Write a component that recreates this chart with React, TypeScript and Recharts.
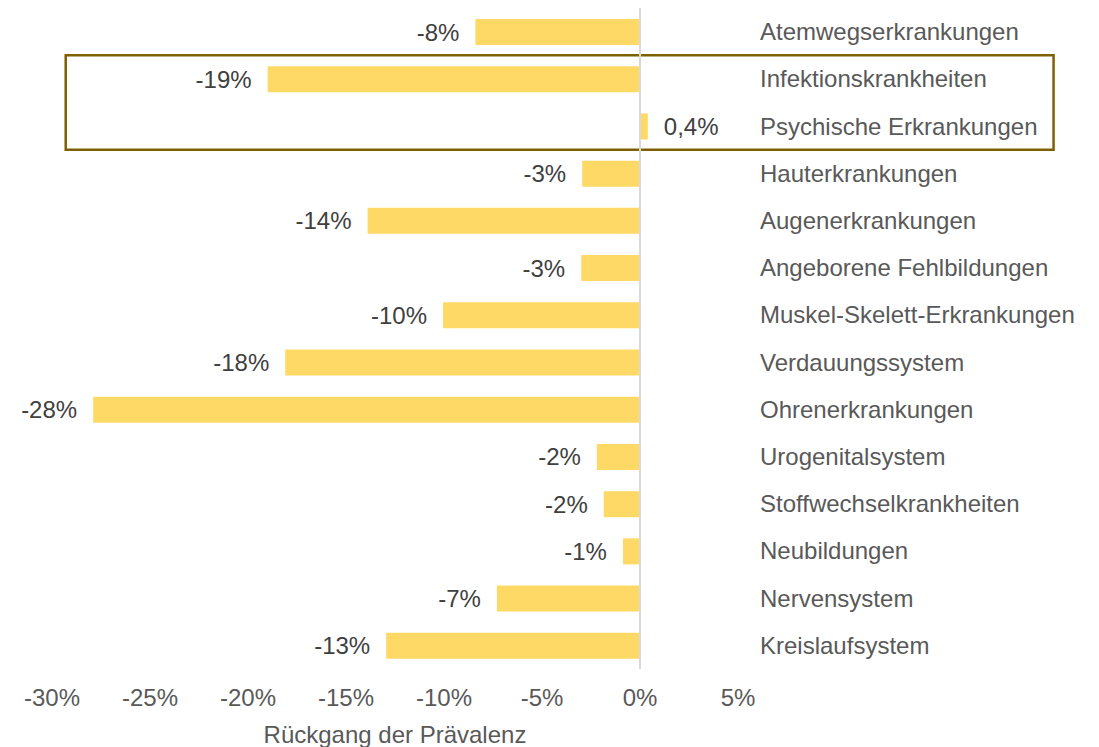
import { BarChart, Bar, XAxis, YAxis, ReferenceLine, ReferenceArea, LabelList } from "recharts";

const categories = [
  "Atemwegserkrankungen",
  "Infektionskrankheiten",
  "Psychische Erkrankungen",
  "Hauterkrankungen",
  "Augenerkrankungen",
  "Angeborene Fehlbildungen",
  "Muskel-Skelett-Erkrankungen",
  "Verdauungssystem",
  "Ohrenerkrankungen",
  "Urogenitalsystem",
  "Stoffwechselkrankheiten",
  "Neubildungen",
  "Nervensystem",
  "Kreislaufsystem",
];

const changes = [-8.4, -19.0, 0.4, -2.95, -13.9, -3.0, -10.05, -18.1, -27.9, -2.2, -1.85, -0.87, -7.3, -12.95];

const xTicks = [-30, -25, -20, -15, -10, -5, 0, 5];

const data = categories.map((name, i) => ({ name, value: changes[i] }));

const FONT = "'Liberation Sans', Arial, sans-serif";

const fmtValue = (v: number) =>
  v > 0 ? `${v.toFixed(1).replace(".", ",")}%` : `${Math.round(v)}%`;

function ValueLabel(props: any) {
  const { x, y, width, height, value } = props;
  const end = x + width;
  const cy = y + height / 2;
  const neg = value < 0;
  return (
    <text
      x={neg ? Math.min(x, end) - 16 : Math.max(x, end) + 16}
      y={cy}
      textAnchor={neg ? "end" : "start"}
      dominantBaseline="central"
      fill="#404040"
      fontSize={24}
      fontFamily={FONT}
    >
      {fmtValue(value)}
    </text>
  );
}

export default function App() {
  return (
    <div style={{ position: "absolute", left: 0, top: 0, background: "#fff", fontFamily: FONT }}>
      <BarChart
        width={1099}
        height={747}
        data={data}
        layout="vertical"
        margin={{ top: 8, right: 0, bottom: 0, left: 52 }}
      >
        <XAxis
          type="number"
          domain={[-30, 5]}
          ticks={xTicks}
          tickFormatter={(v) => `${v}%`}
          axisLine={false}
          tickLine={false}
          tickSize={0}
          tickMargin={20}
          height={78}
          tick={{ fill: "#595959", fontSize: 24, fontFamily: FONT }}
          label={{
            value: "Rückgang der Prävalenz",
            position: "insideBottom",
            offset: 4,
            fill: "#595959",
            fontSize: 24,
            fontFamily: FONT,
          }}
        />
        <YAxis
          type="category"
          dataKey="name"
          orientation="right"
          width={361}
          axisLine={false}
          tickLine={false}
          tickSize={0}
          tickMargin={22}
          interval={0}
          tick={{ fill: "#595959", fontSize: 24, fontFamily: FONT, textAnchor: "start" }}
        />
        <ReferenceLine x={0} stroke="#D9D9D9" strokeWidth={2} />
        <Bar dataKey="value" fill="#FFD966" barSize={26} isAnimationActive={false}>
          <LabelList dataKey="value" content={ValueLabel} />
        </Bar>
        <ReferenceArea
          x1={-29.3}
          x2={21.1}
          y1="Infektionskrankheiten"
          y2="Psychische Erkrankungen"
          ifOverflow="visible"
          fill="none"
          stroke="#7F6000"
          strokeWidth={2.5}
        />
      </BarChart>
    </div>
  );
}
